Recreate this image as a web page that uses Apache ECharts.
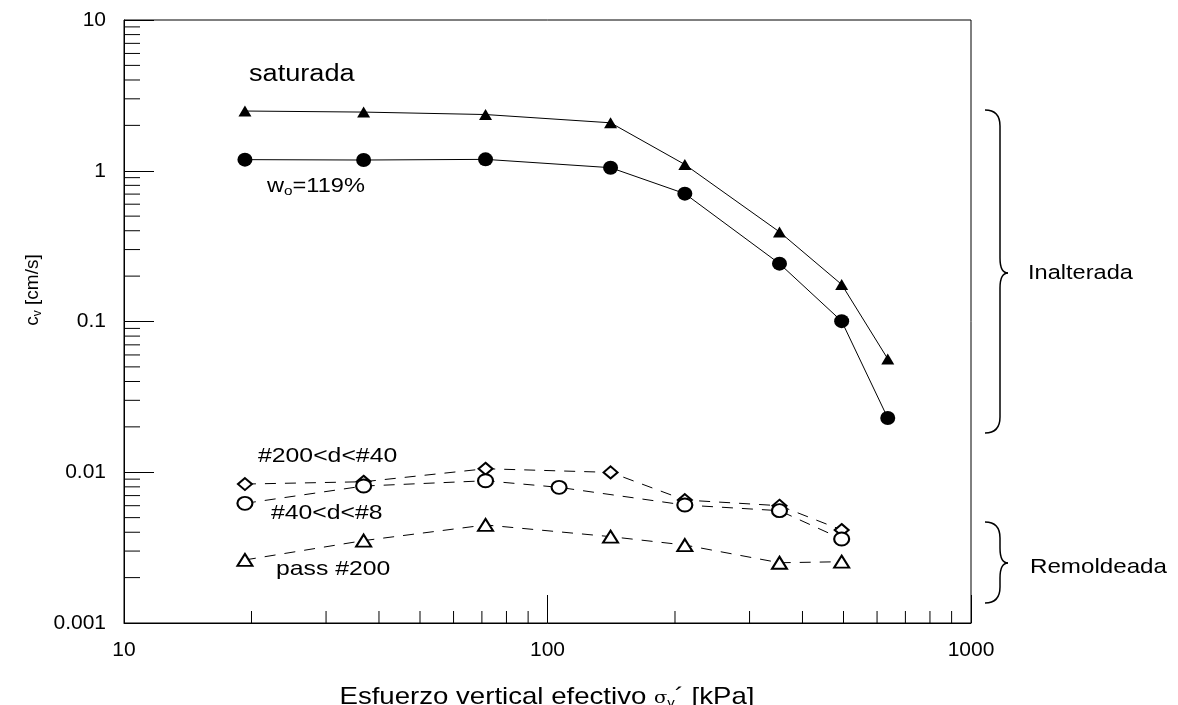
<!DOCTYPE html>
<html>
<head>
<meta charset="utf-8">
<script src="https://cdn.jsdelivr.net/npm/echarts@6/dist/echarts.min.js"></script>
<style>
  html, body { margin: 0; padding: 0; background: #fff; }
  #chart { width: 1178px; height: 705px; }
</style>
</head>
<body>
<div id="chart"></div>
<script>
// esfuerzo vertical efectivo [kPa]
const stress = [19.3, 36.8, 71.4, 140.9, 211, 353, 495, 636];
const stressRem = [19.3, 36.8, 71.4, 140.9, 211, 353, 495];
const stressGruesos = [19.3, 36.8, 71.4, 106.5, 211, 353, 495];

// cv [cm/s]
const cvSaturada = [2.49, 2.45, 2.36, 2.08, 1.10, 0.393, 0.176, 0.0565];
const cvNatural = [1.185, 1.178, 1.19, 1.048, 0.705, 0.242, 0.1005, 0.0229];
const cvFinos = [0.00835, 0.00865, 0.01055, 0.00998, 0.00654, 0.0060, 0.00414];   // #200<d<#40
const cvGruesos = [0.00622, 0.0081, 0.00878, 0.00794, 0.00606, 0.00556, 0.00361]; // #40<d<#8
const cvPasa200 = [0.00262, 0.00352, 0.00447, 0.00374, 0.00329, 0.00251, 0.00255];

// ejes
const xTickLabels = ['10', '100', '1000'];
const yTickLabels = ['0.001', '0.01', '0.1', '1', '10'];
const xDecades = [10, 100];
const yDecades = [0.001, 0.01, 0.1, 1];
const minorSteps = [2, 3, 4, 5, 6, 7, 8, 9];

const FONT = '"Liberation Sans", Arial, sans-serif';

const pairs = (xs, ys) => xs.map((x, i) => [x, ys[i]]);
const labelFor = (list) => (v) => list.find(t => Math.abs(Math.log10(Number(t)) - Math.log10(v)) < 1e-6) || '';

const xMinor = [];
xDecades.forEach(d => minorSteps.forEach(m => xMinor.push([d * m, 0.001])));
const yMinor = [];
yDecades.forEach(d => minorSteps.forEach(m => yMinor.push([10, d * m])));

const chart = echarts.init(document.getElementById('chart'));

const lineSeries = (name, data, symbol, size, dashed) => ({
  name,
  type: 'line',
  data,
  symbol,
  symbolSize: size,
  showAllSymbol: true,
  z: 3,
  lineStyle: { color: '#000', width: 1, type: dashed ? [11, 9] : 'solid' },
  itemStyle: { color: '#000', borderColor: '#000', borderWidth: dashed ? 1.5 : 0 },
  emphasis: { disabled: true }
});

const tickSeries = (data, dx, dy) => ({
  type: 'custom',
  data,
  silent: true,
  clip: false,
  z: 1,
  renderItem: (params, api) => {
    const p = api.coord([api.value(0), api.value(1)]);
    return {
      type: 'line',
      shape: { x1: p[0], y1: p[1], x2: p[0] + dx, y2: p[1] + dy },
      style: { stroke: '#000', lineWidth: 1 }
    };
  }
});

const text = (str, x, y, size, extra) => Object.assign({
  type: 'text',
  x, y,
  scaleX: 1.18,
  style: {
    text: str,
    font: size + 'px ' + FONT,
    fill: '#000',
    align: 'left',
    verticalAlign: 'middle'
  }
}, extra || {});

// llave "}" entre top y bottom con la punta en tip
const brace = (x0, top, tip, bottom) => {
  const xm = x0 + 15, xt = x0 + 23, r = 16, r2 = 15;
  const st = { stroke: '#000', lineWidth: 1.5, fill: null };
  return [
    { type: 'bezierCurve', shape: { x1: x0, y1: top, cpx1: x0 + 10, cpy1: top, cpx2: xm, cpy2: top + 6, x2: xm, y2: top + r }, style: st },
    { type: 'line', shape: { x1: xm, y1: top + r, x2: xm, y2: tip - r2 }, style: st },
    { type: 'bezierCurve', shape: { x1: xm, y1: tip - r2, cpx1: xm, cpy1: tip - 5, cpx2: xm + 3, cpy2: tip, x2: xt, y2: tip }, style: st },
    { type: 'bezierCurve', shape: { x1: xt, y1: tip, cpx1: xm + 3, cpy1: tip, cpx2: xm, cpy2: tip + 5, x2: xm, y2: tip + r2 }, style: st },
    { type: 'line', shape: { x1: xm, y1: tip + r2, x2: xm, y2: bottom - r }, style: st },
    { type: 'bezierCurve', shape: { x1: xm, y1: bottom - r, cpx1: xm, cpy1: bottom - 6, cpx2: x0 + 10, cpy2: bottom, x2: x0, y2: bottom }, style: st }
  ];
};

const option = {
  animation: false,
  backgroundColor: '#fff',
  grid: {
    left: 124, right: 207, top: 20, bottom: 82,
    show: true, borderColor: '#000', borderWidth: 1
  },
  xAxis: {
    type: 'log',
    logBase: 10,
    min: 10,
    max: 1000,
    axisLine: { lineStyle: { color: '#000', width: 1 } },
    axisTick: { inside: true, length: 28, lineStyle: { color: '#000' } },
    splitLine: { show: false },
    axisLabel: {
      margin: 17, color: '#000', fontSize: 21, fontFamily: FONT,
      formatter: labelFor(xTickLabels)
    }
  },
  yAxis: {
    type: 'log',
    logBase: 10,
    min: 0.001,
    max: 10,
    axisLine: { show: true, lineStyle: { color: '#000', width: 1 } },
    axisTick: { show: true, inside: true, length: 30, lineStyle: { color: '#000' } },
    splitLine: { show: false },
    axisLabel: {
      margin: 18, color: '#000', fontSize: 21, fontFamily: FONT,
      formatter: labelFor(yTickLabels)
    }
  },
  series: [
    tickSeries(xMinor, 0, -12),
    tickSeries(yMinor, 16, 0),
    lineSeries('saturada', pairs(stress, cvSaturada), 'triangle', [13, 11], false),
    lineSeries('wo=119%', pairs(stress, cvNatural), 'circle', [15, 14], false),
    lineSeries('#200<d<#40', pairs(stressRem, cvFinos), 'emptyDiamond', [14, 12], true),
    lineSeries('#40<d<#8', pairs(stressGruesos, cvGruesos), 'emptyCircle', [15, 13], true),
    lineSeries('pass #200', pairs(stressRem, cvPasa200), 'emptyTriangle', [15, 12], true)
  ],
  graphic: [
    text('saturada', 249, 75, 23),
    {
      type: 'text', x: 267, y: 186, scaleX: 1.18,
      style: {
        text: '{n|w}{s|o}{n|=119%}',
        fill: '#000', align: 'left', verticalAlign: 'middle',
        rich: {
          n: { font: '20px ' + FONT, fill: '#000' },
          s: { font: '13px ' + FONT, fill: '#000', padding: [10, 0, 0, 0] }
        }
      }
    },
    text('#200<d<#40', 258, 456, 21),
    text('#40<d<#8', 271, 513, 21),
    text('pass #200', 276, 569, 21),
    text('Inalterada', 1028, 273, 20.5, { scaleX: 1.15 }),
    text('Remoldeada', 1030, 567, 21, { scaleX: 1.15 }),
    ...brace(985, 110, 273, 433),
    ...brace(985, 522, 563, 603),
    {
      type: 'text', x: 33, y: 290, rotation: Math.PI / 2,
      style: {
        text: '{n|c}{s|v}{n| [cm/s]}',
        fill: '#000', align: 'center', verticalAlign: 'middle',
        rich: {
          n: { font: '19px ' + FONT, fill: '#000' },
          s: { font: '12px ' + FONT, fill: '#000', padding: [9, 0, 0, 0] }
        }
      }
    },
    {
      type: 'text', x: 547, y: 697, scaleX: 1.15,
      style: {
        text: '{n|Esfuerzo vertical efectivo }{g|σ}{s|v}{n|´ [kPa]}',
        fill: '#000', align: 'center', verticalAlign: 'middle',
        rich: {
          n: { font: '24px ' + FONT, fill: '#000' },
          g: { font: '17px "DejaVu Serif", serif', fill: '#000', padding: [4, 0, 0, 0] },
          s: { font: '13px ' + FONT, fill: '#000', padding: [13, 0, 0, 0] }
        }
      }
    }
  ]
};

chart.setOption(option);
</script>
</body>
</html>
